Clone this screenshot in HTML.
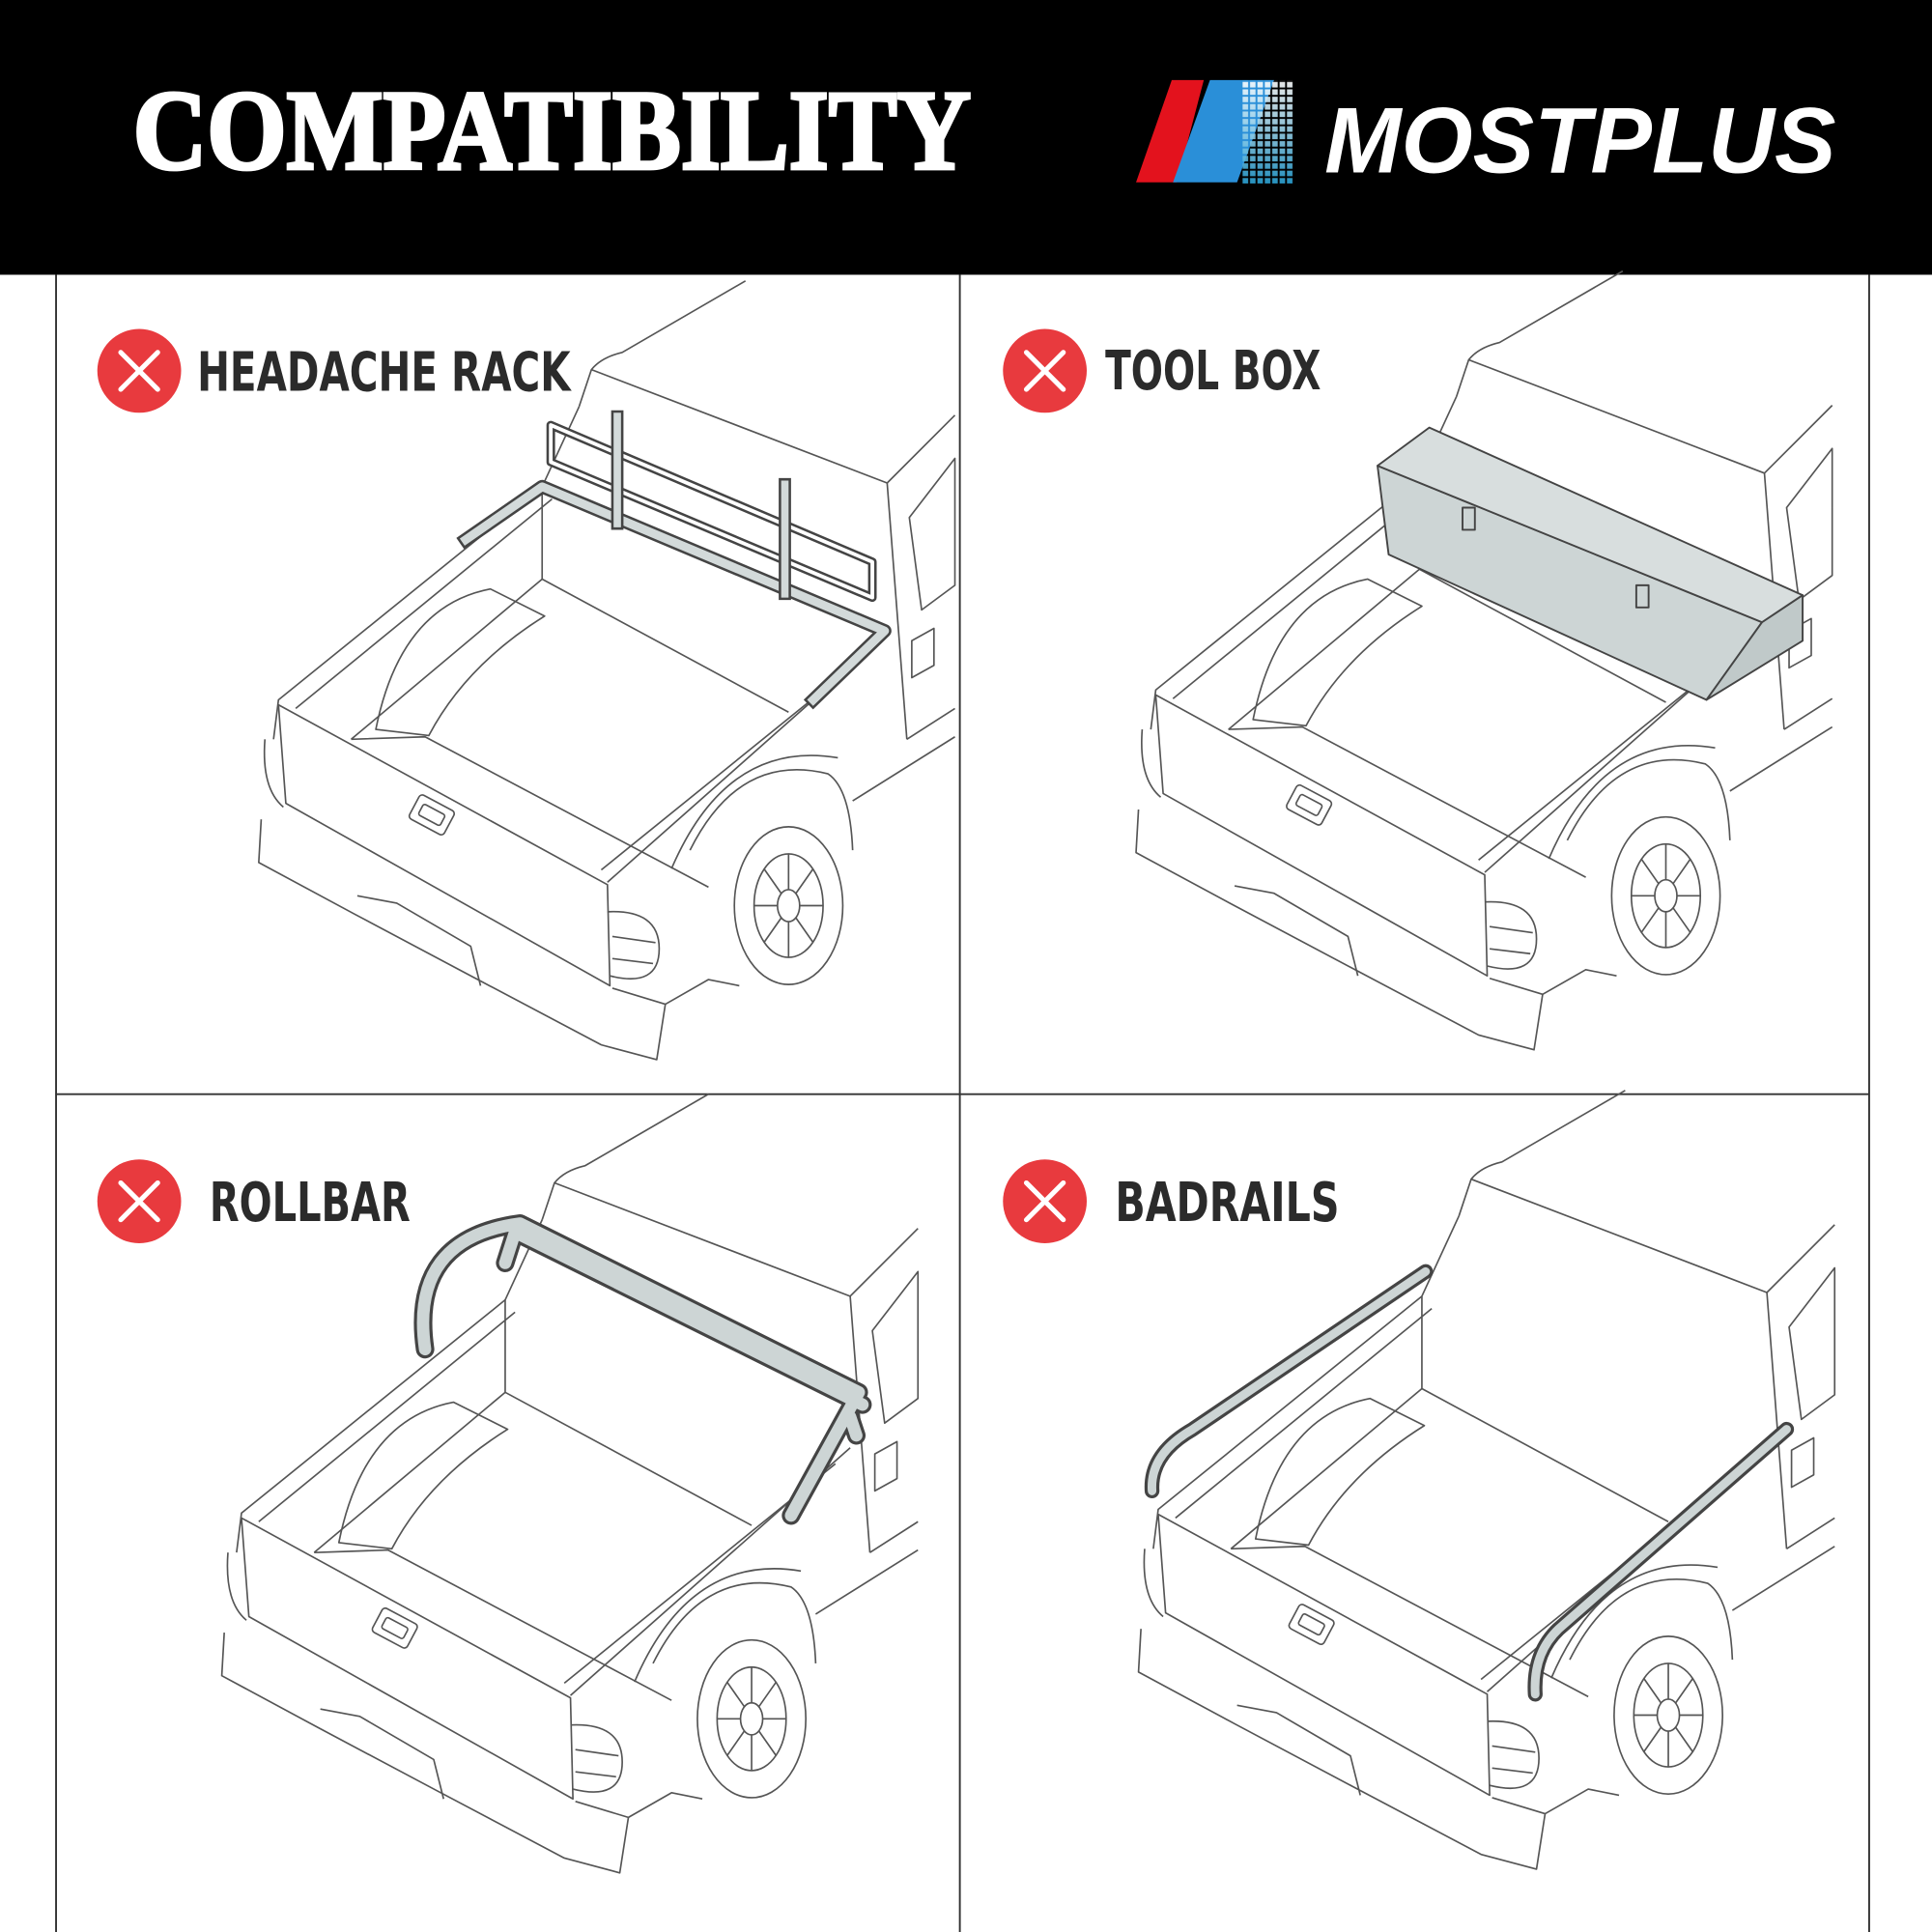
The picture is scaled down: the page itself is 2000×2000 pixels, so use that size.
<!DOCTYPE html>
<html><head><meta charset="utf-8"><style>
html,body{margin:0;padding:0;background:#fff}
svg{display:block}
</style></head><body>
<svg width="2000" height="2000" viewBox="0 0 1568 1568" xmlns="http://www.w3.org/2000/svg">
<defs>
<pattern id="grid" width="6" height="6" patternUnits="userSpaceOnUse"><rect x="0.5" y="0.5" width="4.5" height="4.5" fill="#cfeef5"/></pattern>
<linearGradient id="gg" x1="0" y1="0" x2="0" y2="1"><stop offset="0" stop-color="#fff"/><stop offset="1" stop-color="#2a9fd0"/></linearGradient>
<mask id="gm"><rect x="1008" y="65" width="42" height="84" fill="url(#grid)"/></mask>
<g id="truck" fill="none" stroke="#555" stroke-width="1.3" stroke-linejoin="round">
  <path d="M470,330 L480,300 Q488,290 505,286 L605,228"/>
  <path d="M470,330 L440,395"/>
  <path d="M480,300 L720,392 L775,337"/>
  <path d="M720,392 L736,600"/>
  <path d="M738,420 L775,372 L775,475 L748,495 Z"/>
  <path d="M740,520 L758,510 L758,540 L740,550 Z"/>
  <path d="M440,395 L440,470 L640,578"/>
  <path d="M440,395 L226,568 L222,600"/>
  <path d="M448,405 L240,575"/>
  <path d="M720,515 L493,716"/>
  <path d="M708,528 L488,706"/>
  <path d="M226,572 L493,718 L495,800 L232,652 Z"/>
  <path d="M215,600 Q212,640 230,655"/>
  <path d="M212,665 L210,700 L288,742 L384,793 L488,848 L533,860 L540,815 L497,802"/>
  <path d="M290,727 L322,733 L382,768 L390,800"/>
  <path d="M285,600 L440,470"/>
  <path d="M305,592 Q325,492 398,478 L442,500 Q378,540 348,597 Z"/>
  <path d="M285,600 L345,598 L575,720"/>
  <path d="M560,690 Q600,610 672,628 Q690,640 692,690"/>
  <path d="M545,705 Q590,600 680,615"/>
  <ellipse cx="640" cy="735" rx="44" ry="64"/>
  <ellipse cx="640" cy="735" rx="28" ry="42"/>
  <ellipse cx="640" cy="735" rx="9" ry="13"/>
  <path d="M640,693 L640,722 M640,748 L640,777 M612,735 L631,735 M649,735 L668,735 M620,705 L634,725 M646,745 L660,765 M620,765 L634,745 M646,725 L660,705"/>
  <path d="M493,740 Q535,738 535,770 Q535,802 495,792"/>
  <path d="M497,760 L532,765 M497,778 L530,782"/>
  <path d="M692,650 L775,598 M736,600 L775,575"/>
  <path d="M540,815 L575,795 L600,800"/>
  <g transform="rotate(28 350 660)"><rect x="335" y="650" width="32" height="22" rx="3"/><rect x="341" y="656" width="20" height="10" rx="2"/></g>
</g>
</defs>

<rect x="0" y="0" width="1568" height="223" fill="#000"/>
<text x="108" y="137" font-family="Liberation Serif, serif" font-weight="bold" font-size="92" fill="#fff" stroke="#fff" stroke-width="3" textLength="680" lengthAdjust="spacingAndGlyphs">COMPATIBILITY</text>
<polygon points="922,148 951,65 977,65 962,122 972,100 955,148" fill="#e3121d"/>
<polygon points="952,148 982,65 1034,65 1004,148" fill="#2a8fd8"/>
<rect x="1008" y="65" width="42" height="84" fill="url(#gg)" mask="url(#gm)"/>
<text x="1075" y="140" font-family="Liberation Sans, sans-serif" font-weight="bold" font-style="italic" font-size="76" fill="#fff" textLength="415" lengthAdjust="spacingAndGlyphs">MOSTPLUS</text>

<g stroke="#333" stroke-width="1.5">
<line x1="45.5" y1="223" x2="45.5" y2="1568"/>
<line x1="779" y1="223" x2="779" y2="1568"/>
<line x1="1517" y1="223" x2="1517" y2="1568"/>
<line x1="45" y1="888" x2="1517" y2="888"/>
</g>

<use href="#truck"/>
<use href="#truck" transform="translate(712,-8)"/>
<use href="#truck" transform="translate(-30,660)"/>
<use href="#truck" transform="translate(714,657)"/>

<g fill="none" stroke-linejoin="round" stroke-linecap="square">
<path d="M378,438 L440,395 L718,512 L660,568" stroke="#444" stroke-width="11"/>
<path d="M378,438 L440,395 L718,512 L660,568" stroke="#d3dada" stroke-width="7"/>
<path d="M447,345 L708,456 L708,485 L447,375 Z" stroke="#444" stroke-width="7"/>
<path d="M447,345 L708,456 L708,485 L447,375 Z" stroke="#fff" stroke-width="3"/>
<path d="M501,338 L501,425 M637,393 L637,482" stroke="#444" stroke-width="10"/>
<path d="M501,338 L501,425 M637,393 L637,482" stroke="#d3dada" stroke-width="6"/>
</g>
<g stroke="#444" stroke-width="1.5" stroke-linejoin="round">
<polygon points="1118,378 1430,505 1385,568 1127,450" fill="#cdd5d5"/>
<polygon points="1430,505 1463,483 1463,520 1385,568" fill="#c0c9c9"/>
<polygon points="1118,378 1160,347 1463,483 1430,505" fill="#d8dede"/>
<rect x="1187" y="412" width="10" height="18" fill="none"/>
<rect x="1328" y="475" width="10" height="18" fill="none"/>
</g>
<g fill="none" stroke-linejoin="round" stroke-linecap="round">
<path d="M345,1095 Q332,1005 422,993 L697,1130 L642,1230 M410,1025 L418,1000 L700,1140 M690,1150 L695,1165" stroke="#444" stroke-width="15"/>
<path d="M345,1095 Q332,1005 422,993 L697,1130 L642,1230 M410,1025 L418,1000 L700,1140 M690,1150 L695,1165" stroke="#cdd5d5" stroke-width="10"/>
<path d="M935,1210 Q933,1180 968,1160 L1157,1032 M1246,1375 Q1244,1342 1265,1322 L1450,1160" stroke="#444" stroke-width="12"/>
<path d="M935,1210 Q933,1180 968,1160 L1157,1032 M1246,1375 Q1244,1342 1265,1322 L1450,1160" stroke="#cdd5d5" stroke-width="7"/>
</g>

<g font-family="DejaVu Sans Condensed, Liberation Sans, sans-serif" font-weight="bold" fill="#2b2b2b">
<g>
<circle cx="113" cy="301" r="34" fill="#e83a3e"/>
<path d="M98,286 L128,316 M128,286 L98,316" stroke="#fff" stroke-width="4" stroke-linecap="round"/>
<text x="160" y="317" font-size="44" textLength="303" lengthAdjust="spacingAndGlyphs">HEADACHE RACK</text>
</g>
<g>
<circle cx="848" cy="301" r="34" fill="#e83a3e"/>
<path d="M833,286 L863,316 M863,286 L833,316" stroke="#fff" stroke-width="4" stroke-linecap="round"/>
<text x="897" y="316" font-size="44" textLength="175" lengthAdjust="spacingAndGlyphs">TOOL BOX</text>
</g>
<g>
<circle cx="113" cy="975" r="34" fill="#e83a3e"/>
<path d="M98,960 L128,990 M128,960 L98,990" stroke="#fff" stroke-width="4" stroke-linecap="round"/>
<text x="170" y="991" font-size="44" textLength="163" lengthAdjust="spacingAndGlyphs">ROLLBAR</text>
</g>
<g>
<circle cx="848" cy="975" r="34" fill="#e83a3e"/>
<path d="M833,960 L863,990 M863,960 L833,990" stroke="#fff" stroke-width="4" stroke-linecap="round"/>
<text x="905" y="991" font-size="44" textLength="182" lengthAdjust="spacingAndGlyphs">BADRAILS</text>
</g>
</g>
</svg>
</body></html>
